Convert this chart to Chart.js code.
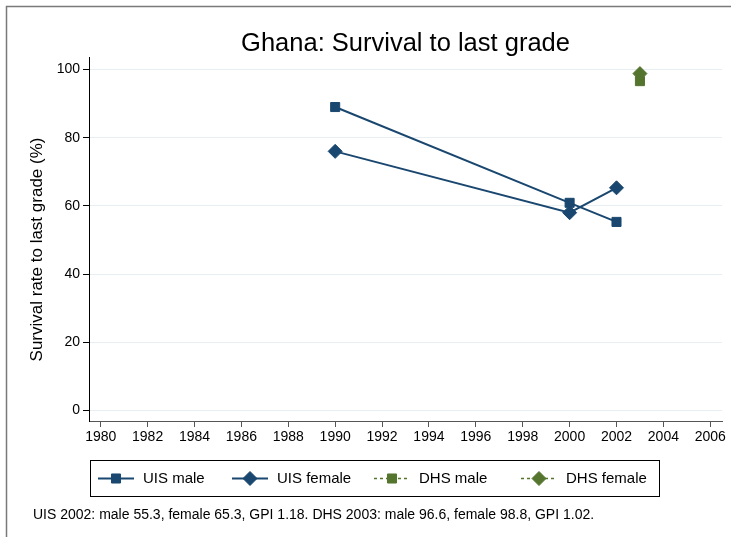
<!DOCTYPE html>
<html>
<head>
<meta charset="utf-8">
<script src="https://cdn.jsdelivr.net/npm/chart.js@4.4.0/dist/chart.umd.min.js"></script>
<style>
html,body{margin:0;padding:0;background:#fff;}
#wrap{position:relative;width:731px;height:537px;}
canvas{display:block;}
</style>
</head>
<body>
<div id="wrap"><canvas id="c" width="731" height="537"></canvas></div>
<script>
// ---- data ----
const titleText = "Ghana: Survival to last grade";
const yTitleText = "Survival rate to last grade (%)";
const noteText = "UIS 2002: male 55.3, female 65.3, GPI 1.18. DHS 2003: male 96.6, female 98.8, GPI 1.02.";
const seriesLabels = ["UIS male", "UIS female", "DHS male", "DHS female"];
const uisYears = [1990, 2000, 2002];
const uisMale = [89.0, 60.9, 55.3];
const uisFemale = [76.0, 58.0, 65.3];
const dhsYears = [2003];
const dhsMale = [96.6];
const dhsFemale = [98.8];
const xTicks = [1980, 1982, 1984, 1986, 1988, 1990, 1992, 1994, 1996, 1998, 2000, 2002, 2004, 2006];
const yTicks = [0, 20, 40, 60, 80, 100];

const NAVY = "#1a476f";
const GREEN = "#55752f";
const FONT = "'Liberation Sans', Arial, Helvetica, sans-serif";

function pts(xs, ys) { return xs.map((x, i) => ({ x: x, y: ys[i] })); }

Chart.defaults.font.family = FONT;
Chart.defaults.color = "#000";

const outerFrame = {
  id: "outerFrame",
  beforeDraw(chart) {
    const ctx = chart.ctx;
    ctx.save();
    ctx.fillStyle = "#fff";
    ctx.fillRect(0, 0, chart.width, chart.height);
    ctx.strokeStyle = "#7a7a7a";
    ctx.lineWidth = 1.5;
    ctx.beginPath();
    ctx.moveTo(6.5, chart.height + 2);
    ctx.lineTo(6.5, 6.5);
    ctx.lineTo(chart.width + 2, 6.5);
    ctx.stroke();
    ctx.restore();
  }
};

// y-axis title, placed as in the reference (centred a little below the plot centre)
const yAxisTitle = {
  id: "yAxisTitle",
  afterDraw(chart) {
    const ctx = chart.ctx;
    ctx.save();
    ctx.translate(37, 249.5);
    ctx.rotate(-Math.PI / 2);
    ctx.font = "17px " + FONT;
    ctx.fillStyle = "#000";
    ctx.textAlign = "center";
    ctx.textBaseline = "middle";
    ctx.fillText(yTitleText, 0, 0);
    ctx.restore();
  }
};

const stataLegend = {
  id: "stataLegend",
  afterDraw(chart) {
    const ctx = chart.ctx;
    const box = { x: 90.5, y: 460.5, w: 569, h: 36 };
    ctx.save();
    ctx.strokeStyle = "#000";
    ctx.lineWidth = 1;
    ctx.strokeRect(box.x, box.y, box.w, box.h);
    const starts = [98, 232, 374, 521];
    const cy = box.y + box.h / 2;
    ctx.font = "15px " + FONT;
    ctx.textBaseline = "middle";
    chart.data.datasets.forEach((ds, i) => {
      const x0 = starts[i];
      const sw = 36;
      ctx.strokeStyle = ds.borderColor;
      ctx.lineWidth = ds.borderWidth;
      ctx.setLineDash(ds.borderDash || []);
      ctx.beginPath();
      ctx.moveTo(x0, cy);
      ctx.lineTo(x0 + sw, cy);
      ctx.stroke();
      ctx.setLineDash([]);
      ctx.fillStyle = ds.pointBackgroundColor;
      ctx.strokeStyle = ds.pointBorderColor;
      ctx.lineWidth = ds.pointBorderWidth;
      Chart.helpers.drawPoint(ctx, {
        pointStyle: ds.pointStyle, radius: ds.pointRadius, rotation: 0, borderWidth: ds.pointBorderWidth
      }, x0 + sw / 2, cy);
      ctx.fillStyle = "#000";
      ctx.textAlign = "left";
      ctx.fillText(ds.label, x0 + sw + 9, cy + 0.5);
    });
    ctx.font = "14px " + FONT;
    ctx.fillStyle = "#000";
    ctx.textAlign = "left";
    ctx.fillText(noteText, 33, 515);
    ctx.restore();
  }
};

function mkDs(label, data, color, style, radius, dashed, order) {
  return {
    label: label,
    data: data,
    showLine: true,
    borderColor: color,
    backgroundColor: color,
    borderWidth: dashed ? 1.5 : 2,
    borderDash: dashed ? [3, 3] : [],
    pointStyle: style,
    pointRadius: radius,
    pointHoverRadius: radius,
    pointBackgroundColor: color,
    pointBorderColor: color,
    pointBorderWidth: 1,
    order: order
  };
}

new Chart(document.getElementById("c"), {
  type: "scatter",
  data: {
    datasets: [
      mkDs(seriesLabels[0], pts(uisYears, uisMale), NAVY, "rect", 6.4, false, 2),
      mkDs(seriesLabels[1], pts(uisYears, uisFemale), NAVY, "rectRot", 7, false, 1),
      mkDs(seriesLabels[2], pts(dhsYears, dhsMale), GREEN, "rect", 6.4, true, 4),
      mkDs(seriesLabels[3], pts(dhsYears, dhsFemale), GREEN, "rectRot", 7, true, 3)
    ]
  },
  options: {
    responsive: false,
    animation: false,
    devicePixelRatio: 1,
    layout: { padding: { top: 0, left: 0, right: 9, bottom: 86 } },
    plugins: {
      legend: { display: false },
      tooltip: { enabled: false },
      title: {
        display: true,
        text: titleText,
        fullSize: false,
        color: "#000",
        font: { size: 25.5, weight: "normal", family: FONT },
        padding: { top: 29, bottom: -2 }
      }
    },
    scales: {
      x: {
        type: "linear",
        min: 1979.5,
        max: 2006.5,
        afterBuildTicks: s => { s.ticks = xTicks.map(v => ({ value: v })); },
        afterFit: s => { s.height = 30; },
        grid: { drawOnChartArea: false, drawTicks: true, tickLength: 6, tickColor: "#555", tickWidth: 1 },
        border: { display: true, color: "#555", width: 1 },
        ticks: { callback: v => String(v), color: "#000", font: { size: 14 }, maxRotation: 0, autoSkip: false, padding: 2 }
      },
      y: {
        type: "linear",
        min: -3.1,
        max: 103.5,
        afterBuildTicks: s => { s.ticks = yTicks.map(v => ({ value: v })); },
        afterFit: s => { s.width = 89; },
        grid: { color: "#e8eff2", lineWidth: 1, drawTicks: true, tickLength: 6, tickColor: "#000", tickWidth: 1 },
        border: { display: true, color: "#000", width: 1 },
        ticks: { callback: v => String(v), color: "#000", font: { size: 14 }, padding: 3 },
        title: { display: false, text: yTitleText }
      }
    }
  },
  plugins: [outerFrame, yAxisTitle, stataLegend]
});
</script>
</body>
</html>
